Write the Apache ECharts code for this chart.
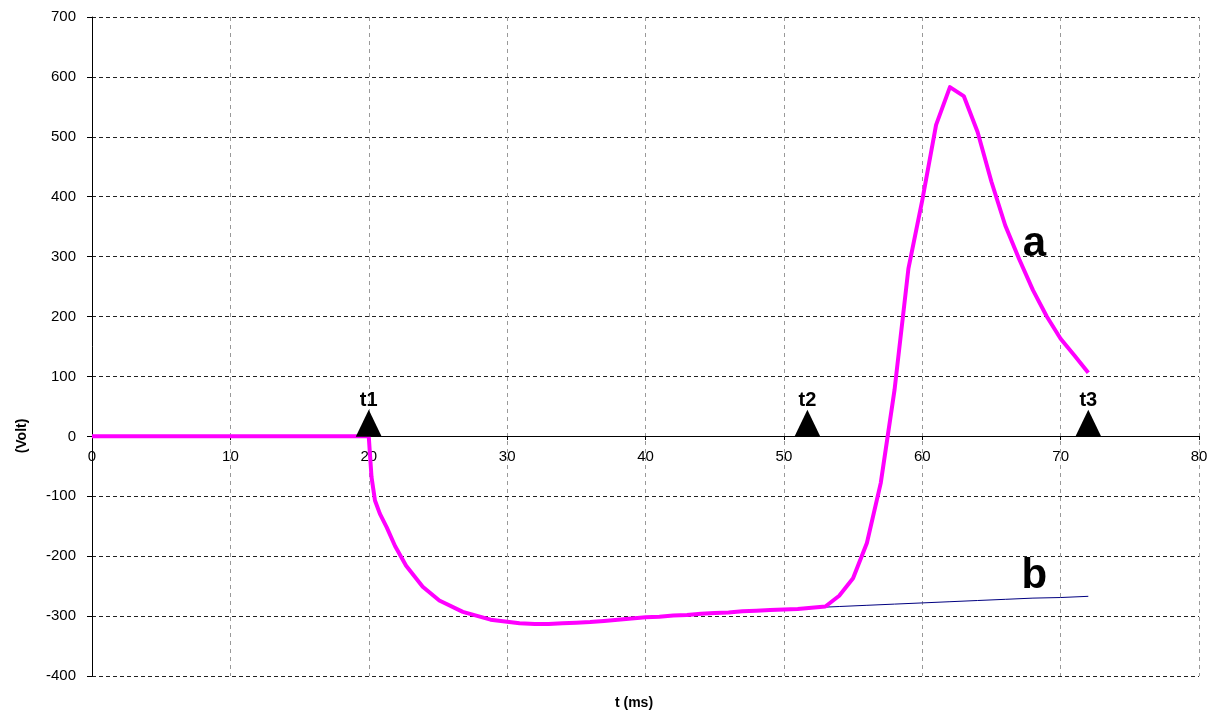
<!DOCTYPE html>
<html>
<head>
<meta charset="utf-8">
<script src="https://cdn.jsdelivr.net/npm/echarts@6/dist/echarts.min.js"></script>
<style>
html,body{margin:0;padding:0;background:#fff;}
#chart{width:1216px;height:717px;}
</style>
</head>
<body>
<div id="chart"></div>
<script>
// Curve a (magenta)
const tA = [0, 5, 10, 15, 20, 20.2, 20.45, 20.8, 21.3, 21.9, 22.7, 23.9, 25.1, 26.8, 28.8, 30.9,
  32, 33, 34, 35, 36, 37, 38, 39, 40, 41, 42, 43, 44, 45, 46, 47, 48, 49, 50,
  51, 52, 53, 54, 55, 56, 57, 58, 59, 60, 61, 62, 63, 64, 65, 66, 67, 68, 69, 70, 71, 72];
const vA = [0, 0, 0, 0, 0, -68, -107, -129, -152, -183, -216, -251, -274, -293, -306, -312,
  -313, -313, -312, -311, -310, -308, -306, -304, -302, -301, -299, -298, -296, -295, -294, -292, -291, -290, -289,
  -288, -286, -284, -266, -237, -178, -78, 78, 280, 394, 520, 583, 568, 508, 425, 352, 296, 244, 200, 163, 135, 106];
// Curve b (navy)
const tB = [50, 52, 54, 56, 58, 60, 62, 64, 66, 68, 70, 72];
const vB = [-289, -286, -284, -282, -280, -278, -276, -274, -272, -270, -269, -267];
// Markers
const markerNames = ['t1', 't2', 't3'];
const markerT = [20, 51.7, 72];
// Curve labels
const curveNames = ['a', 'b'];
const curveLabelT = [68.1, 68.1];
const curveLabelV = [320, -233];
// Axes
const xMin = 0, xMax = 80, xStep = 10;
const yMin = -400, yMax = 700, yStep = 100;

const FONT = '"Liberation Sans", Arial, sans-serif';
const chart = echarts.init(document.getElementById('chart'), null, {renderer: 'canvas'});
chart.setOption({
  animation: false,
  backgroundColor: '#fff',
  grid: {left: 92, right: 17, top: 17, bottom: 41, containLabel: false},
  xAxis: {
    type: 'value', min: xMin, max: xMax, interval: xStep,
    position: 'bottom', offset: -240,
    axisLine: {show: true, onZero: false, lineStyle: {color: '#000', width: 1}},
    axisTick: {show: true, length: 4, lineStyle: {color: '#000'}},
    axisLabel: {color: '#000', fontSize: 15, fontFamily: FONT, margin: 13},
    splitLine: {show: true, lineStyle: {color: '#999', type: [4, 4], width: 1}}
  },
  yAxis: {
    type: 'value', min: yMin, max: yMax, interval: yStep,
    axisLine: {show: true, lineStyle: {color: '#000', width: 1}},
    axisTick: {show: true, length: 5, lineStyle: {color: '#000'}},
    axisLabel: {color: '#000', fontSize: 15, fontFamily: FONT, margin: 16},
    splitLine: {show: true, lineStyle: {color: '#222', type: [4, 3], width: 1}}
  },
  graphic: [
    {type: 'text', x: 22, y: 436, rotation: Math.PI / 2,
      style: {text: '(Volt)', font: 'bold 14px ' + FONT, fill: '#000', align: 'center', verticalAlign: 'middle'}},
    {type: 'text', x: 634, y: 703,
      style: {text: 't (ms)', font: 'bold 14px ' + FONT, fill: '#000', align: 'center', verticalAlign: 'middle'}}
  ],
  series: [
    {
      type: 'line', name: 'b', z: 2,
      data: tB.map((t, i) => [t, vB[i]]),
      showSymbol: false, symbol: 'none',
      lineStyle: {color: '#000080', width: 1}
    },
    {
      type: 'line', name: 'a', z: 3,
      data: tA.map((t, i) => [t, vA[i]]),
      showSymbol: false, symbol: 'none',
      lineStyle: {color: '#FF00FF', width: 4, join: 'round'}
    },
    {
      type: 'scatter', z: 5,
      data: markerT.map((t, i) => ({name: markerNames[i], value: [t, 0]})),
      symbol: 'triangle', symbolSize: [26, 27], symbolOffset: [0, -13],
      itemStyle: {color: '#000', opacity: 1},
      label: {show: true, position: 'top', distance: -1, formatter: p => p.name,
        color: '#000', fontSize: 20, fontWeight: 'bold', fontFamily: FONT}
    },
    {
      type: 'scatter', z: 6,
      data: curveNames.map((n, i) => ({name: n, value: [curveLabelT[i], curveLabelV[i]]})),
      symbol: 'circle', symbolSize: 0,
      itemStyle: {opacity: 1},
      label: {show: true, position: 'inside', formatter: p => p.name,
        color: '#000', fontSize: 42, fontWeight: 'bold', fontFamily: FONT}
    }
  ]
});
</script>
</body>
</html>
